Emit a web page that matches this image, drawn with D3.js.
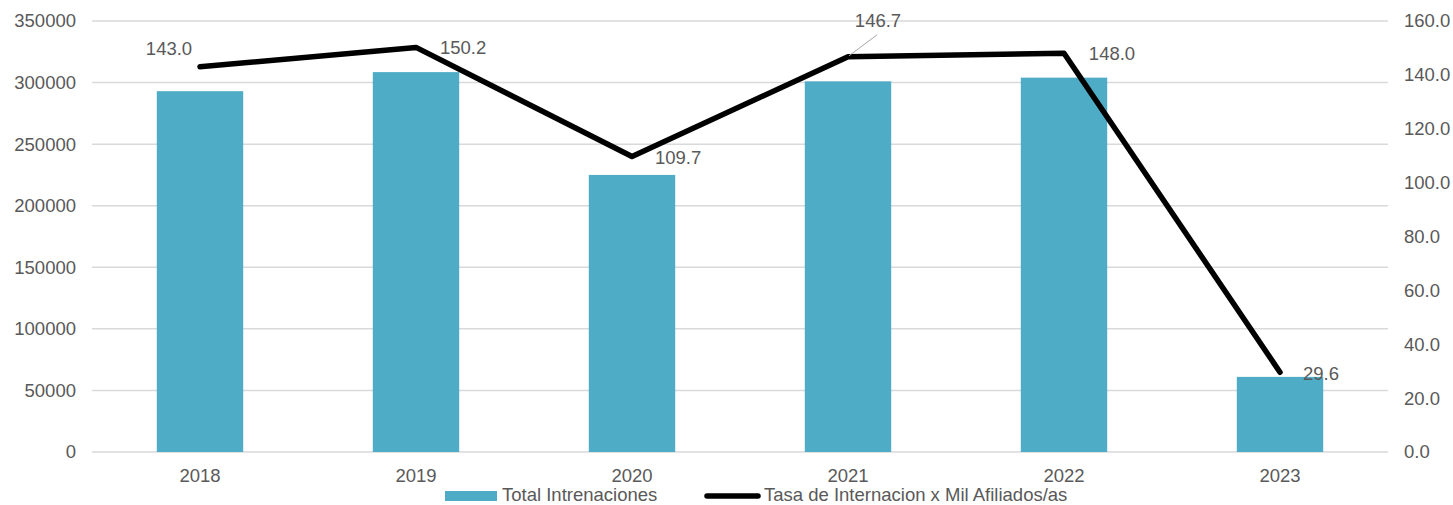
<!DOCTYPE html>
<head>
    <meta charset="utf-8">
    <style>
      body {
          margin: 0;
          font-family: 'Liberation Sans', Arial, sans-serif;
          background: #fff;
      }
      .tick text, .lbl, .legend text {
          fill: #595959;
          font-size: 18.5px;
      }
      .grid line {
          stroke: #d9d9d9;
          stroke-width: 1.5px;
      }
  </style>
</head>
<body>
<svg id="chart" width="1453" height="505"></svg>
<script src="https://cdn.jsdelivr.net/npm/d3@7"></script>
<script>
  var years = ["2018", "2019", "2020", "2021", "2022", "2023"];
  var totalInternaciones = [293000, 308500, 225000, 301000, 304000, 61000];
  var tasaPorMil = [143.0, 150.2, 109.7, 146.7, 148.0, 29.6];
  var leftTicks = [0, 50000, 100000, 150000, 200000, 250000, 300000, 350000];
  var rightTicks = [0, 20, 40, 60, 80, 100, 120, 140, 160];

  var svg = d3.select("#chart");
  var margin = { top: 21, right: 65, bottom: 53, left: 92 };
  var width = svg.attr("width") - margin.left - margin.right;
  var height = svg.attr("height") - margin.top - margin.bottom;

  var g = svg.append("g").attr("transform", "translate(" + margin.left + "," + margin.top + ")");

  var x = d3.scaleBand().domain(years).range([0, width]).paddingInner(0.6).paddingOuter(0.3);
  var xc = function(d) { return x(d) + x.bandwidth() / 2; };
  var yL = d3.scaleLinear().domain([0, 350000]).range([height, 0]);
  var yR = d3.scaleLinear().domain([0, 160]).range([height, 0]);

  // gridlines
  g.append("g")
      .attr("class", "grid")
    .selectAll("line")
    .data(leftTicks)
    .enter().append("line")
      .attr("x1", 0).attr("x2", width)
      .attr("y1", function(d) { return yL(d); })
      .attr("y2", function(d) { return yL(d); });

  // left axis
  var axL = g.append("g")
      .call(d3.axisLeft(yL).tickValues(leftTicks).tickSize(0).tickPadding(16).tickFormat(d3.format("d")));
  axL.select(".domain").remove();

  // right axis
  var axR = g.append("g")
      .attr("transform", "translate(" + width + ",0)")
      .call(d3.axisRight(yR).tickValues(rightTicks).tickSize(0).tickPadding(16).tickFormat(d3.format(".1f")));
  axR.select(".domain").remove();

  // x axis
  var axX = g.append("g")
      .attr("transform", "translate(0," + height + ")")
      .call(d3.axisBottom(x).tickSize(0).tickPadding(17));
  axX.select(".domain").remove();
  g.selectAll(".tick text").style("font-family", "'Liberation Sans', Arial, sans-serif").style("font-size", "18.5px");

  // bars
  g.selectAll("rect.bar")
    .data(years)
    .enter().append("rect")
      .attr("class", "bar")
      .attr("x", function(d) { return x(d); })
      .attr("width", x.bandwidth())
      .attr("y", function(d, i) { return yL(totalInternaciones[i]); })
      .attr("height", function(d, i) { return height - yL(totalInternaciones[i]); })
      .attr("fill", "#4facc6");

  // line
  var line = d3.line()
      .x(function(d, i) { return xc(years[i]); })
      .y(function(d) { return yR(d); });

  g.append("path")
      .datum(tasaPorMil)
      .attr("d", line)
      .attr("fill", "none")
      .attr("stroke", "#000")
      .attr("stroke-width", 5.5)
      .attr("stroke-linejoin", "round")
      .attr("stroke-linecap", "round");

  // data labels (offset from point)
  var offsets = [[-31, -12, "middle"], [24, 7, "start"], [23, 8, "start"], [30, -30, "middle"], [48, 7, "middle"], [23, 8, "start"]];
  g.selectAll("text.lbl")
    .data(tasaPorMil)
    .enter().append("text")
      .attr("class", "lbl")
      .attr("x", function(d, i) { return xc(years[i]) + offsets[i][0]; })
      .attr("y", function(d, i) { return yR(d) + offsets[i][1]; })
      .attr("text-anchor", function(d, i) { return offsets[i][2]; })
      .text(function(d) { return d3.format(".1f")(d); });

  // leader line for 2021
  g.append("line")
      .attr("x1", xc("2021") + 1).attr("y1", yR(tasaPorMil[3]) - 1)
      .attr("x2", xc("2021") + 29).attr("y2", yR(tasaPorMil[3]) - 22)
      .attr("stroke", "#a6a6a6")
      .attr("stroke-width", 1);

  // legend
  var legend = svg.append("g").attr("class", "legend");
  legend.append("rect")
      .attr("x", 445).attr("y", 491).attr("width", 52).attr("height", 10)
      .attr("fill", "#4facc6");
  legend.append("text").attr("x", 502).attr("y", 501).text("Total Intrenaciones");
  legend.append("line")
      .attr("x1", 707).attr("x2", 758).attr("y1", 496).attr("y2", 496)
      .attr("stroke", "#000").attr("stroke-width", 5.5).attr("stroke-linecap", "round");
  legend.append("text").attr("x", 764).attr("y", 501).text("Tasa de Internacion x Mil Afiliados/as");
</script>
</body>
